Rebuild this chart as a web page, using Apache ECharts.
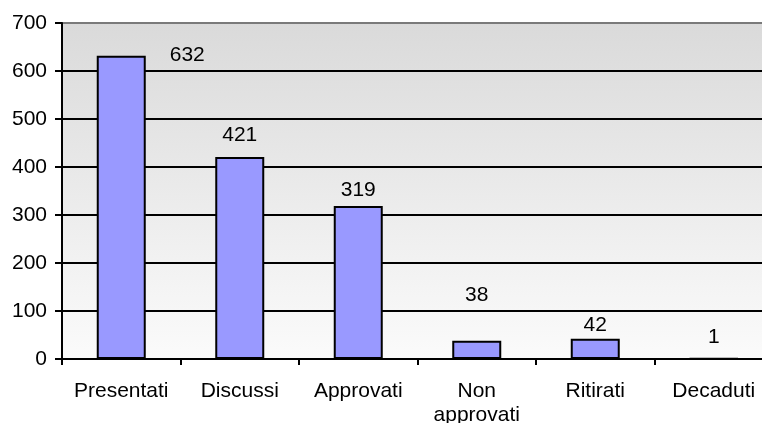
<!DOCTYPE html>
<html>
<head>
<meta charset="utf-8">
<script src="https://cdn.jsdelivr.net/npm/echarts@6/dist/echarts.min.js"></script>
<style>
html,body{margin:0;padding:0;background:#fff;}
#chart{width:762px;height:423px;}
</style>
</head>
<body>
<div id="chart"></div>
<script>
var categories = ['Presentati', 'Discussi', 'Approvati', 'Non\napprovati', 'Ritirati', 'Decaduti'];
var values = [632, 421, 319, 38, 42, 1];
var yTicks = [0, 100, 200, 300, 400, 500, 600, 700];

var FONT = '"Liberation Sans", Arial, sans-serif';
// label displacement per bar (style only)
var labelShift = [[66, 15], [0, -6], [0, 0], [0, -30], [0, 2], [0, -5]];

var chart = echarts.init(document.getElementById('chart'));
var seriesData = values.map(function (v, i) {
  return { value: v, label: { offset: labelShift[i] } };
});

chart.setOption({
  animation: false,
  grid: {
    left: 62, top: 23, right: -11, bottom: 64,
    outerBoundsMode: 'none',
    containLabel: false,
    show: true,
    borderWidth: 0,
    backgroundColor: new echarts.graphic.LinearGradient(0, 0, 0, 1, [
      { offset: 0, color: '#dadada' },
      { offset: 1, color: '#fbfbfb' }
    ])
  },
  xAxis: {
    type: 'category',
    data: categories,
    axisLine: { lineStyle: { color: '#000', width: 2 } },
    axisTick: { show: true, interval: 0, length: 6, lineStyle: { color: '#000', width: 2 } },
    axisLabel: {
      interval: 0, hideOverlap: false,
      color: '#000', fontFamily: FONT, fontSize: 21, lineHeight: 24, margin: 20
    }
  },
  yAxis: {
    type: 'value',
    min: yTicks[0],
    max: yTicks[yTicks.length - 1],
    interval: 100,
    axisLine: { show: true, lineStyle: { color: '#000', width: 2 } },
    axisTick: { show: true, length: 7, lineStyle: { color: '#000', width: 2 } },
    axisLabel: { color: '#000', fontFamily: FONT, fontSize: 21, margin: 15 },
    splitLine: {
      show: true,
      lineStyle: {
        width: 2,
        color: ['#000', '#000', '#000', '#000', '#000', '#000', '#000', '#7a7a7a']
      }
    }
  },
  series: [{
    type: 'bar',
    data: seriesData,
    barWidth: 49,
    itemStyle: { color: '#9999ff', borderColor: '#000', borderWidth: 2 },
    label: {
      show: true,
      position: 'top',
      color: '#000',
      fontFamily: FONT,
      fontSize: 21
    }
  }]
});
</script>
</body>
</html>
